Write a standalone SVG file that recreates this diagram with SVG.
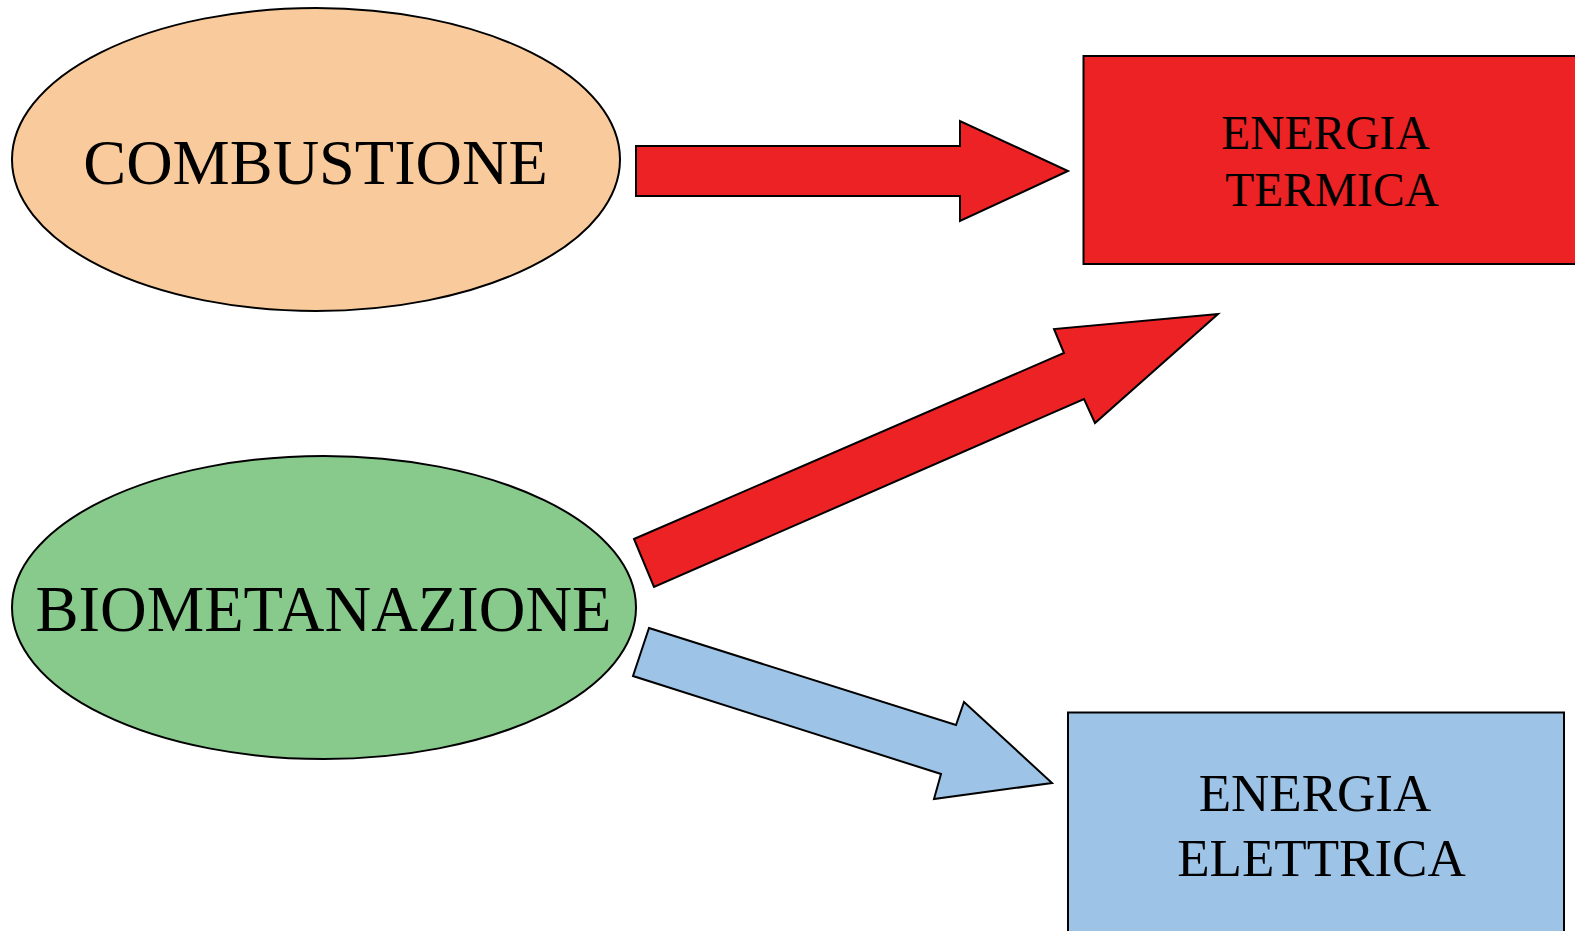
<svg xmlns="http://www.w3.org/2000/svg" width="1575" height="931" viewBox="0 0 1575 931">
<style>
text{font-family:"Liberation Serif","Times New Roman",serif;fill:#000;text-anchor:middle}
.sh{stroke:#000;stroke-width:2;stroke-linejoin:miter}
.red{fill:#ED2224}
.blue{fill:#9DC3E6}
</style>
<rect width="1575" height="931" fill="#fff"/>
<g id="connectors">
<polygon class="sh red" points="636,146 960,146 960,121 1068,171 960,221 960,196 636,196"/>
<polygon class="sh red" points="634,539 1064,353 1054,329 1218,314 1095,423 1084,399 654,587"/>
<polygon class="sh blue" points="649,628 956,725 964,702 1052,783 934,799 941,774 633,676"/>
</g>
<g id="combustione">
<ellipse class="sh" cx="316" cy="159.5" rx="304" ry="151.5" fill="#F9CB9C"/>
<text x="315.5" y="184" font-size="64.3">COMBUSTIONE</text>
</g>
<g id="biometanazione">
<ellipse class="sh" cx="324" cy="607.5" rx="312" ry="151.5" fill="#88C98C"/>
<text x="323.5" y="631" font-size="64.6">BIOMETANAZIONE</text>
</g>
<g id="energia-termica">
<rect class="sh red" x="1083.5" y="56" width="500" height="208"/>
<text x="1325.5" y="149" font-size="47.5">ENERGIA</text>
<text x="1332" y="205.5" font-size="47.5">TERMICA</text>
</g>
<g id="energia-elettrica">
<rect class="sh blue" x="1068" y="712.5" width="496" height="230"/>
<text x="1315" y="811" font-size="53">ENERGIA</text>
<text x="1321.5" y="875.5" font-size="53">ELETTRICA</text>
</g>
</svg>
